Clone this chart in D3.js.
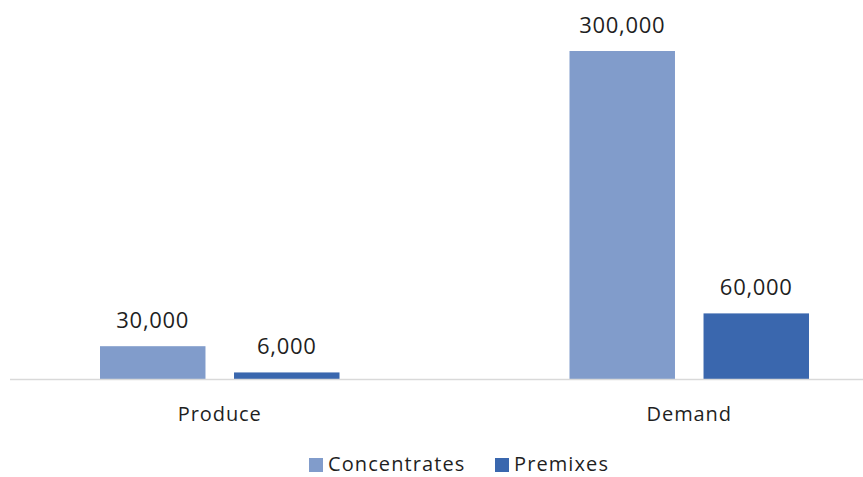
<!DOCTYPE html>
<html>
<head>
<meta charset="utf-8">
<script src="https://cdn.jsdelivr.net/npm/d3@7"></script>
<style>
  html, body { margin: 0; padding: 0; background: #fff; }
  svg { display: block; }
  text { font-family: "Open Sans", "DejaVu Sans", sans-serif; fill: #1f1f1f; font-weight: 500; }
</style>
</head>
<body>
<svg id="chart" width="863" height="477"></svg>
<script>
const categories = ["Produce", "Demand"];
const seriesNames = ["Concentrates", "Premixes"];
const concentrates = [30000, 300000];
const premixes = [6000, 60000];
const colors = ["#819CCB", "#3A67AE"];

const chartW = 863, chartH = 477;
const baseY = 379, topY = 51;
const svg = d3.select("#chart");

const x = d3.scaleBand().domain(categories).range([-15, 924]).paddingInner(0).paddingOuter(0);
const xInner = d3.scaleBand().domain(seriesNames).range([0, x.bandwidth()]).paddingInner(0.213).paddingOuter(0.858);
const y = d3.scaleLinear().domain([0, 300000]).range([baseY, topY]);

const data = categories.map((c, i) => ({ cat: c, values: [concentrates[i], premixes[i]] }));
const fmt = d3.format(",");

const groups = svg.selectAll("g.cat").data(data).join("g")
  .attr("class", "cat")
  .attr("transform", d => `translate(${x(d.cat)},0)`);

groups.selectAll("rect").data(d => d.values.map((v, j) => ({ v, s: seriesNames[j], j })))
  .join("rect")
  .attr("x", d => xInner(d.s))
  .attr("width", xInner.bandwidth())
  .attr("y", d => y(d.v))
  .attr("height", d => baseY - y(d.v))
  .attr("fill", d => colors[d.j]);

groups.selectAll("text.val").data(d => d.values.map((v, j) => ({ v, s: seriesNames[j], j })))
  .join("text")
  .attr("class", "val")
  .attr("x", d => xInner(d.s) + xInner.bandwidth() / 2)
  .attr("y", d => y(d.v) - 18)
  .attr("text-anchor", "middle")
  .style("font-size", "22px")
  .style("letter-spacing", "0.7px")
  .text(d => fmt(d.v));

// axis baseline
svg.append("line")
  .attr("x1", 10).attr("x2", 863)
  .attr("y1", baseY + 0.5).attr("y2", baseY + 0.5)
  .attr("stroke", "#d9d9d9").attr("stroke-width", 1.5);

// category labels
svg.selectAll("text.catlabel").data(categories).join("text")
  .attr("class", "catlabel")
  .attr("x", d => x(d) + x.bandwidth() / 2)
  .attr("y", 421)
  .attr("text-anchor", "middle")
  .style("font-size", "20px")
  .style("letter-spacing", "0.9px")
  .text(d => d);

// legend
const legendItems = [
  { name: seriesNames[0], color: colors[0], x: 309 },
  { name: seriesNames[1], color: colors[1], x: 495 }
];
const lg = svg.selectAll("g.legend").data(legendItems).join("g")
  .attr("class", "legend")
  .attr("transform", d => `translate(${d.x},0)`);
lg.append("rect").attr("x", 0).attr("y", 458).attr("width", 14).attr("height", 14).attr("fill", d => d.color);
lg.append("text").attr("x", 19).attr("y", 471).style("font-size", "20px").style("letter-spacing", "1.1px").text(d => d.name);
</script>
</body>
</html>
